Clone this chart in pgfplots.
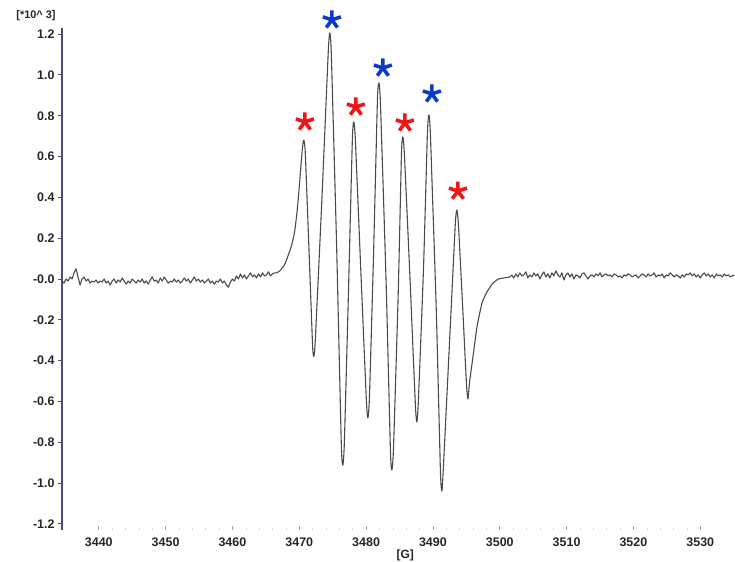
\documentclass[border=0pt]{standalone}
\usepackage{fontspec}
\setmainfont{Liberation Sans}
\usepackage{pgfplots}
\pgfplotsset{compat=1.18}
\definecolor{curve}{RGB}{68,78,70}
\definecolor{axline}{RGB}{85,70,115}
\definecolor{astred}{RGB}{240,22,22}
\definecolor{astblue}{RGB}{12,58,200}
\begin{document}
\begin{tikzpicture}[x=1bp,y=1bp]
\useasboundingbox (-62bp,-32bp) rectangle (673bp,530bp);
\begin{axis}[
  at={(0,0)}, anchor=south west,
  scale only axis, width=673bp, height=502bp,
  xmin=3434.5, xmax=3535.2, ymin=-1.23, ymax=1.23,
  axis y line*=left, axis x line*=bottom,
  x axis line style={draw=none},
  y axis line style={axline, line width=1.1pt, -},
  xtick={3440,3450,...,3530},
  xticklabels={3440,3450,3460,3470,3480,3490,3500,3510,3520,3530},
  minor x tick num=4,
  ytick={-1.2,-1.0,-0.8,-0.6,-0.4,-0.2,0,0.2,0.4,0.6,0.8,1.0,1.2},
  yticklabels={-1.2,-1.0,-0.8,-0.6,-0.4,-0.2,-0.0,0.2,0.4,0.6,0.8,1.0,1.2},
  x tick style={black!35, line width=0.6pt},
  minor x tick style={black!15, line width=0.5pt},
  major tick length=4bp, minor tick length=2bp,
  y tick style={axline, line width=0.9pt},
  tick align=outside,
  xtick align=inside,
  ytick pos=left,
  xtick pos=bottom,
  tick label style={font=\fontsize{12.5}{14}\selectfont\bfseries, text=black!85},
  xticklabel style={yshift=-4bp},
  yticklabel style={xshift=0bp},
  xlabel={[G]},
  xlabel style={font=\fontsize{12}{14}\selectfont\bfseries, text=black!85, at={(rel axis cs:0.51,0)}, anchor=north, yshift=-16bp},
  clip=false,
]
\addplot[curve, line width=1.1pt, line join=round] coordinates {
(3434.5,-0.01)(3434.8,-0.02)(3435.1,0.00)(3435.4,-0.01)(3435.7,0.01)(3436.0,0.00)(3436.3,0.03)(3436.6,0.05)(3436.9,0.01)(3437.2,-0.03)
(3437.5,0.00)(3437.8,0.01)(3438.1,-0.01)(3438.4,0.00)(3438.7,-0.02)(3439.0,-0.01)(3439.3,-0.015)(3439.6,-0.005)(3439.9,-0.02)(3440.2,-0.01)
(3440.5,-0.015)(3440.8,0.00)(3441.1,-0.02)(3441.4,-0.01)(3441.7,-0.03)(3442.0,-0.01)(3442.3,0.00)(3442.6,-0.02)(3442.9,-0.005)(3443.2,-0.015)
(3443.5,0.005)(3443.8,-0.01)(3444.1,-0.025)(3444.4,-0.01)(3444.7,-0.02)(3445.0,0.00)(3445.3,-0.01)(3445.6,-0.02)(3445.9,-0.005)(3446.2,-0.015)
(3446.5,0.00)(3446.8,-0.02)(3447.1,-0.01)(3447.4,-0.025)(3447.7,-0.005)(3448.0,0.01)(3448.3,-0.01)(3448.6,-0.005)(3448.9,-0.02)(3449.2,0.005)
(3449.5,-0.01)(3449.8,0.01)(3450.1,-0.005)(3450.4,-0.02)(3450.7,-0.01)(3451.0,-0.015)(3451.3,0.00)(3451.6,-0.015)(3451.9,-0.005)(3452.2,-0.02)
(3452.5,-0.01)(3452.8,0.005)(3453.1,-0.01)(3453.4,0.00)(3453.7,-0.02)(3454.0,-0.005)(3454.3,0.01)(3454.6,-0.01)(3454.9,0.00)(3455.2,-0.015)
(3455.5,-0.005)(3455.8,-0.02)(3456.1,-0.01)(3456.4,0.00)(3456.7,-0.02)(3457.0,-0.01)(3457.3,-0.025)(3457.6,-0.01)(3457.9,-0.015)(3458.2,0.00)
(3458.5,-0.02)(3458.8,-0.01)(3459.1,-0.03)(3459.4,-0.04)(3459.7,-0.015)(3460.0,0.00)(3460.3,-0.01)(3460.6,0.015)(3460.9,0.00)(3461.2,0.025)
(3461.5,0.005)(3461.8,0.02)(3462.1,0.00)(3462.4,0.015)(3462.7,0.03)(3463.0,0.01)(3463.3,0.02)(3463.6,0.005)(3463.9,0.025)(3464.2,0.01)
(3464.5,0.03)(3464.8,0.015)(3465.1,0.02)(3465.4,0.035)(3465.7,0.015)(3466.0,0.025)(3466.3,0.03)(3466.6,0.03)
};
\addplot[curve, line width=1.1pt, line join=round, smooth, tension=0.3] coordinates {
(3466.6,0.03)(3467.1,0.04)(3467.8,0.07)(3468.5,0.13)(3468.9,0.17)(3469.3,0.23)(3469.64,0.32)(3470.0,0.45)(3470.24,0.55)(3470.5,0.65)(3470.69,0.68)(3470.9,0.62)
(3471.45,0.15)(3472.0,-0.33)(3472.19,-0.38)(3472.4,-0.30)
(3473.4,0.40)(3474.35,1.12)(3474.58,1.206)(3474.8,1.10)
(3475.6,0.15)(3476.3,-0.82)(3476.53,-0.912)(3476.75,-0.80)
(3477.35,-0.08)(3477.95,0.69)(3478.17,0.770)(3478.4,0.68)
(3479.2,0.05)(3480.05,-0.60)(3480.27,-0.681)(3480.5,-0.58)
(3481.1,0.10)(3481.7,0.88)(3481.92,0.961)(3482.15,0.86)
(3483.0,-0.02)(3483.65,-0.85)(3483.86,-0.936)(3484.1,-0.83)
(3484.8,-0.08)(3485.3,0.62)(3485.51,0.696)(3485.75,0.60)
(3486.6,-0.02)(3487.38,-0.62)(3487.60,-0.701)(3487.82,-0.60)
(3488.6,0.06)(3489.18,0.72)(3489.40,0.804)(3489.62,0.71)
(3490.5,-0.15)(3491.13,-0.95)(3491.35,-1.039)(3491.57,-0.92)
(3492.5,-0.30)(3493.35,0.27)(3493.59,0.338)(3493.83,0.26)
(3494.5,-0.17)(3495.03,-0.52)(3495.24,-0.588)(3495.5,-0.50)
(3496.0,-0.38)(3496.59,-0.235)(3497.34,-0.118)(3498.08,-0.064)(3498.98,-0.02)(3499.8,0.00)(3500.6,0.005)(3501.5,0.01)(3501.8,0.02)
};
\addplot[curve, line width=1.1pt, line join=round] coordinates {
(3501.8,0.02)(3502.1,0.005)(3502.4,0.025)(3502.7,0.01)(3503.0,0.03)(3503.3,0.015)(3503.6,0.02)(3503.9,0.035)(3504.2,0.005)(3504.5,0.02)
(3504.8,0.01)(3505.1,0.03)(3505.4,0.015)(3505.7,0.025)(3506.0,0.00)(3506.3,0.02)(3506.6,0.035)(3506.9,0.01)(3507.2,0.025)(3507.5,0.005)
(3507.8,0.03)(3508.1,0.015)(3508.4,0.04)(3508.7,0.02)(3509.0,0.01)(3509.3,0.03)(3509.6,-0.005)(3509.9,0.02)(3510.2,0.03)(3510.5,0.01)
(3510.8,0.025)(3511.1,0.00)(3511.4,0.02)(3511.7,0.015)(3512.0,0.005)(3512.3,0.025)(3512.6,0.03)(3512.9,0.015)(3513.2,0.00)(3513.5,0.015)
(3513.8,0.02)(3514.1,0.01)(3514.4,0.025)(3514.7,0.015)(3515.0,0.03)(3515.3,0.01)(3515.6,0.02)(3515.9,0.025)(3516.2,0.015)(3516.5,0.02)
(3516.8,0.01)(3517.1,0.025)(3517.4,0.02)(3517.7,0.01)(3518.0,0.015)(3518.3,0.005)(3518.6,0.02)(3518.9,0.015)(3519.2,0.025)(3519.5,0.02)
(3519.8,0.01)(3520.1,0.015)(3520.4,0.02)(3520.7,0.005)(3521.0,0.015)(3521.3,0.025)(3521.6,0.02)(3521.9,0.01)(3522.2,0.025)(3522.5,0.015)
(3522.8,0.02)(3523.1,0.03)(3523.4,0.01)(3523.7,0.02)(3524.0,0.015)(3524.3,0.025)(3524.6,0.005)(3524.9,0.02)(3525.2,0.015)(3525.5,0.03)
(3525.8,0.02)(3526.1,0.01)(3526.4,0.02)(3526.7,0.015)(3527.0,0.005)(3527.3,0.02)(3527.6,0.01)(3527.9,0.025)(3528.2,0.02)(3528.5,0.03)
(3528.8,0.015)(3529.1,0.025)(3529.4,0.01)(3529.7,0.02)(3530.0,0.005)(3530.3,0.02)(3530.6,0.03)(3530.9,0.015)(3531.2,0.025)(3531.5,0.01)
(3531.8,0.02)(3532.1,0.005)(3532.4,0.025)(3532.7,0.015)(3533.0,0.02)(3533.3,0.01)(3533.6,0.025)(3533.9,0.015)(3534.2,0.02)(3534.5,0.01)
(3534.8,0.015)(3535.1,0.02)
};
% asterisks above the peaks
\addplot[only marks, mark=star, mark size=9.5bp, astred, mark options={line width=3.6bp, line cap=butt}] coordinates {
(3470.84,0.770)(3478.47,0.843)(3485.81,0.765)(3493.74,0.431)
};
\addplot[only marks, mark=star, mark size=9.5bp, astblue, mark options={line width=3.6bp, line cap=butt}] coordinates {
(3474.88,1.270)(3482.51,1.034)(3489.85,0.907)
};
\node[font=\fontsize{11}{13}\selectfont\bfseries, text=black!85, anchor=south] at (rel axis cs:0,1) [xshift=-26bp, yshift=4bp] {[*10\textasciicircum{} 3]};
\end{axis}
\end{tikzpicture}
\end{document}
